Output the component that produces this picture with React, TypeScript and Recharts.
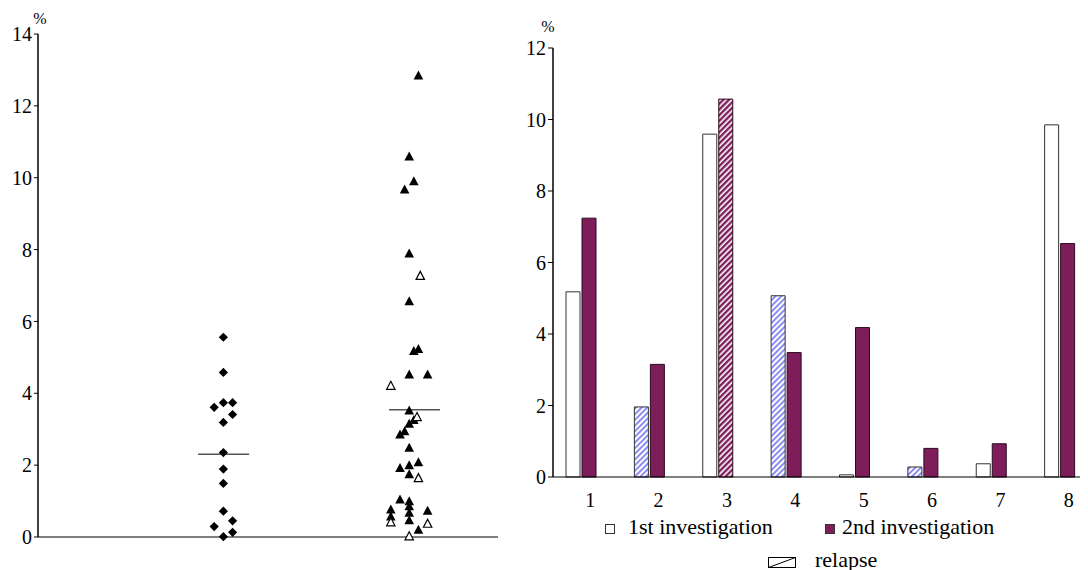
import React from "react";
import {
  ScatterChart, Scatter, BarChart, Bar, Cell, XAxis, YAxis, ReferenceLine, Legend,
} from "recharts";

// left panel: individual values (%) per group, with horizontal jitter steps
const GROUP_A_VALUES = [5.56, 4.58, 3.74, 3.74, 3.61, 3.41, 3.19, 2.35, 1.89, 1.49, 0.72, 0.45, 0.29, 0.13, 0.01];
const GROUP_A_JITTER = [0, 0, 0, 1, -1, 1, 0, 0, 0, 0, 0, 1, -1, 1, 0];
const GROUP_B_FILLED = [12.83, 10.58, 9.89, 9.66, 7.88, 6.55, 5.16, 5.22, 4.51, 4.51, 3.51, 3.24, 3.14, 2.93, 2.84, 2.47, 1.91, 1.98, 2.07, 1.73, 1.03, 0.98, 0.75, 0.84, 0.72, 0.56, 0.66, 0.45, 0.19];
const GROUP_B_FILLED_JITTER = [1, 0, 0.5, -0.5, 0, 0, 0.5, 1, 0, 2, 0, 0.5, 0, -0.5, -1, 0, -1, 0, 1, 0, -1, 0, -2, 0, 2, -2, 0, 0, 1];
const GROUP_B_OPEN = [7.26, 4.2, 3.33, 1.63, 0.4, 0.36, 0.01];
const GROUP_B_OPEN_JITTER = [1.2, -2, 0.85, 1, -2, 2, 0];
const MEDIAN_A = 2.3;
const MEDIAN_B = 3.54;
const LEFT_TICKS = [0, 2, 4, 6, 8, 10, 12, 14];

// right panel
const CATEGORIES = ["1", "2", "3", "4", "5", "6", "7", "8"];
const FIRST_VALUES = [5.18, 1.96, 9.59, 5.07, 0.06, 0.28, 0.37, 9.85];
const SECOND_VALUES = [7.24, 3.15, 10.57, 3.48, 4.18, 0.8, 0.93, 6.53];
const FIRST_RELAPSE = [false, true, false, true, false, true, false, false];
const SECOND_RELAPSE = [false, false, true, false, false, false, false, false];
const RIGHT_TICKS = [0, 2, 4, 6, 8, 10, 12];

const GROUP_A_X = 4.03;
const GROUP_B_X = 8.07;
const STEP = 0.2;

const PURPLE = "#7D1E5B";
const FONT = "'Liberation Serif', 'DejaVu Serif', serif";
const txt = {fontFamily: FONT};

const groupA = GROUP_A_VALUES.map((v, i) => ({x: GROUP_A_X + GROUP_A_JITTER[i] * STEP, y: v}));
const groupBFilled = GROUP_B_FILLED.map((v, i) => ({x: GROUP_B_X + GROUP_B_FILLED_JITTER[i] * STEP, y: v}));
const groupBOpen = GROUP_B_OPEN.map((v, i) => ({x: GROUP_B_X + GROUP_B_OPEN_JITTER[i] * STEP, y: v}));

const barData = CATEGORIES.map((c, i) => ({
  name: c,
  first: FIRST_VALUES[i],
  second: SECOND_VALUES[i],
}));

const Diamond = (props: any) => {
  const {cx, cy} = props;
  const r = 4.6;
  return <polygon points={`${cx},${cy - r} ${cx + r},${cy} ${cx},${cy + r} ${cx - r},${cy}`} fill="#000"/>;
};

const TriangleFilled = (props: any) => {
  const {cx, cy} = props;
  return <polygon points={`${cx},${cy - 5.5} ${cx + 4.8},${cy + 3.5} ${cx - 4.8},${cy + 3.5}`} fill="#000"/>;
};

const TriangleOpen = (props: any) => {
  const {cx, cy} = props;
  return <polygon points={`${cx},${cy - 4.8} ${cx + 4.2},${cy + 3.2} ${cx - 4.2},${cy + 3.2}`} fill="#fff" stroke="#000" strokeWidth={1.2}/>;
};

const makePercentLabel = (dx: number, dy: number) => (props: any) => {
  const {viewBox} = props;
  return (
    <text x={viewBox.x + viewBox.width + dx} y={viewBox.y + dy} fontSize={16} style={txt} fill="#000" textAnchor="middle">%</text>
  );
};

const XTick = (props: any) => {
  const {x, y, payload} = props;
  return (
    <text x={x + 9} y={y + 22} textAnchor="middle" fontSize={20} style={txt} fill="#000">{payload.value}</text>
  );
};

const YTick = (props: any) => {
  const {x, y, payload} = props;
  return (
    <text x={x} y={y} dy="0.36em" textAnchor="end" fontSize={20} style={txt} fill="#000">{payload.value}</text>
  );
};

const renderLegend = () => (
  <svg width={586} height={62} style={{display: "block"}}>
    <rect x={97.5} y={16.5} width={9} height={9} fill="#fff" stroke="#333"/>
    <text x={120} y={25.5} fontSize={22} style={txt} fill="#000">1st investigation</text>
    <rect x={317.5} y={16.5} width={9} height={9} fill={PURPLE} stroke="#333"/>
    <text x={334} y={25.5} fontSize={22} style={txt} fill="#000">2nd investigation</text>
    <rect x={260.5} y={49.5} width={27} height={10} fill="#fff" stroke="#000"/>
    <line x1={260.5} y1={59.5} x2={287.5} y2={49.5} stroke="#000"/>
    <text x={307} y={58.5} fontSize={22} style={txt} fill="#000">relapse</text>
  </svg>
);

const App = () => {
  return (
    <div style={{position: "relative", width: 1080, height: 562, overflow: "hidden", fontFamily: FONT}}>
      <svg width={0} height={0} style={{position: "absolute"}}>
        <defs>
          <pattern id="hatchBlue" patternUnits="userSpaceOnUse" width={4} height={4} patternTransform="rotate(45)">
            <rect width={4} height={4} fill="#fff"/>
            <rect width={2} height={4} fill="#8C8CF2"/>
          </pattern>
          <pattern id="hatchPurple" patternUnits="userSpaceOnUse" width={4} height={4} patternTransform="rotate(45)">
            <rect width={4} height={4} fill="#fff"/>
            <rect width={2.4} height={4} fill={PURPLE}/>
          </pattern>
        </defs>
      </svg>

      <div style={{position: "absolute", left: 0, top: 0}}>
        <ScatterChart width={500} height={560} margin={{top: 26, right: 10, bottom: 30, left: 0}}>
          <XAxis type="number" dataKey="x" domain={[0, 10]} tick={false} tickLine={false} height={1}
                 axisLine={{stroke: "#000", strokeWidth: 1.2}}/>
          <YAxis type="number" dataKey="y" domain={[0, 14]} ticks={LEFT_TICKS} width={30} tickSize={4} tickMargin={2}
                 axisLine={{stroke: "#000", strokeWidth: 1.5}} tickLine={{stroke: "#000"}}
                 tick={<YTick/>} interval={0}
                 label={makePercentLabel(2, -10)}/>
          <ReferenceLine segment={[{x: GROUP_A_X - 0.55, y: MEDIAN_A}, {x: GROUP_A_X + 0.56, y: MEDIAN_A}]}
                         stroke="#555" strokeWidth={1.5}/>
          <ReferenceLine segment={[{x: GROUP_B_X - 0.44, y: MEDIAN_B}, {x: GROUP_B_X + 0.67, y: MEDIAN_B}]}
                         stroke="#555" strokeWidth={1.5}/>
          <Scatter data={groupA} shape={Diamond} isAnimationActive={false}/>
          <Scatter data={groupBFilled} shape={TriangleFilled} isAnimationActive={false}/>
          <Scatter data={groupBOpen} shape={TriangleOpen} isAnimationActive={false}/>
        </ScatterChart>
      </div>

      <div style={{position: "absolute", left: 500, top: 0}}>
        <BarChart width={586} height={562} data={barData} margin={{top: 40, right: 0, bottom: 63, left: 0}}
                  barSize={14} barGap={2}>
          <XAxis dataKey="name" tickLine={false} height={30} padding={{left: -6, right: 0}}
                 axisLine={{stroke: "#000", strokeWidth: 1.2}} tick={<XTick/>} interval={0}/>
          <YAxis domain={[0, 12]} ticks={RIGHT_TICKS} width={45} tickSize={5} tickMargin={2} interval={0}
                 axisLine={{stroke: "#000", strokeWidth: 1.5}} tickLine={{stroke: "#000"}}
                 tick={<YTick/>} label={makePercentLabel(-5, -16)}/>
          <Legend layout="vertical" align="center" verticalAlign="middle" content={renderLegend}
                  wrapperStyle={{left: 0, top: 500, width: 586, height: 62}}/>
          <Bar dataKey="first" stroke="#333" strokeWidth={1} isAnimationActive={false}>
            {barData.map((d, i) => (
              <Cell key={`f-${i}`} fill={FIRST_RELAPSE[i] ? "url(#hatchBlue)" : "#fff"}/>
            ))}
          </Bar>
          <Bar dataKey="second" stroke="#2a0a1e" strokeWidth={1} isAnimationActive={false}>
            {barData.map((d, i) => (
              <Cell key={`s-${i}`} fill={SECOND_RELAPSE[i] ? "url(#hatchPurple)" : PURPLE}/>
            ))}
          </Bar>
        </BarChart>
      </div>
    </div>
  );
};

export default App;
